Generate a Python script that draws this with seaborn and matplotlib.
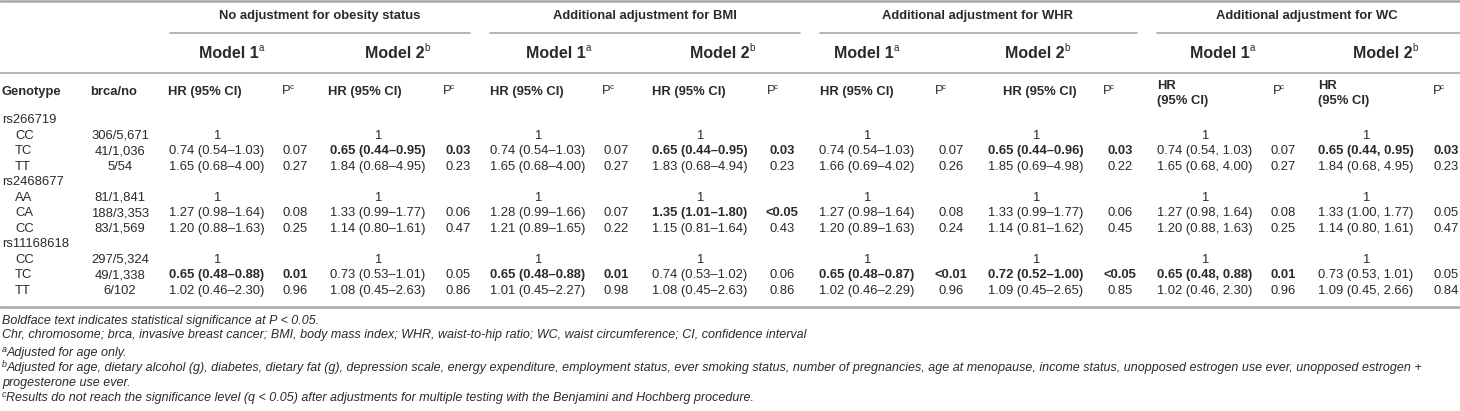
import matplotlib
matplotlib.use("Agg")
import matplotlib.pyplot as plt
import seaborn as sns

# ---- table data ----
snps = ["rs266719", "rs2468677", "rs11168618"]
genotypes = [["CC", "TC", "TT"], ["AA", "CA", "CC"], ["CC", "TC", "TT"]]
brca_no = [["306/5,671", "41/1,036", "5/54"],
           ["81/1,841", "188/3,353", "83/1,569"],
           ["297/5,324", "49/1,338", "6/102"]]

groups = ["No adjustment for obesity status", "Additional adjustment for BMI",
          "Additional adjustment for WHR", "Additional adjustment for WC"]
models = ["Model 1", "Model 2"]
model_sup = ["a", "b"]

noadj_m1_hr = ["1", "0.74 (0.54–1.03)", "1.65 (0.68–4.00)", "1", "1.27 (0.98–1.64)", "1.20 (0.88–1.63)",
               "1", "0.65 (0.48–0.88)", "1.02 (0.46–2.30)"]
noadj_m1_p = ["", "0.07", "0.27", "", "0.08", "0.25", "", "0.01", "0.96"]
noadj_m2_hr = ["1", "0.65 (0.44–0.95)", "1.84 (0.68–4.95)", "1", "1.33 (0.99–1.77)", "1.14 (0.80–1.61)",
               "1", "0.73 (0.53–1.01)", "1.08 (0.45–2.63)"]
noadj_m2_p = ["", "0.03", "0.23", "", "0.06", "0.47", "", "0.05", "0.86"]
bmi_m1_hr = ["1", "0.74 (0.54–1.03)", "1.65 (0.68–4.00)", "1", "1.28 (0.99–1.66)", "1.21 (0.89–1.65)",
             "1", "0.65 (0.48–0.88)", "1.01 (0.45–2.27)"]
bmi_m1_p = ["", "0.07", "0.27", "", "0.07", "0.22", "", "0.01", "0.98"]
bmi_m2_hr = ["1", "0.65 (0.44–0.95)", "1.83 (0.68–4.94)", "1", "1.35 (1.01–1.80)", "1.15 (0.81–1.64)",
             "1", "0.74 (0.53–1.02)", "1.08 (0.45–2.63)"]
bmi_m2_p = ["", "0.03", "0.23", "", "<0.05", "0.43", "", "0.06", "0.86"]
whr_m1_hr = ["1", "0.74 (0.54–1.03)", "1.66 (0.69–4.02)", "1", "1.27 (0.98–1.64)", "1.20 (0.89–1.63)",
             "1", "0.65 (0.48–0.87)", "1.02 (0.46–2.29)"]
whr_m1_p = ["", "0.07", "0.26", "", "0.08", "0.24", "", "<0.01", "0.96"]
whr_m2_hr = ["1", "0.65 (0.44–0.96)", "1.85 (0.69–4.98)", "1", "1.33 (0.99–1.77)", "1.14 (0.81–1.62)",
             "1", "0.72 (0.52–1.00)", "1.09 (0.45–2.65)"]
whr_m2_p = ["", "0.03", "0.22", "", "0.06", "0.45", "", "<0.05", "0.85"]
wc_m1_hr = ["1", "0.74 (0.54, 1.03)", "1.65 (0.68, 4.00)", "1", "1.27 (0.98, 1.64)", "1.20 (0.88, 1.63)",
            "1", "0.65 (0.48, 0.88)", "1.02 (0.46, 2.30)"]
wc_m1_p = ["", "0.07", "0.27", "", "0.08", "0.25", "", "0.01", "0.96"]
wc_m2_hr = ["1", "0.65 (0.44, 0.95)", "1.84 (0.68, 4.95)", "1", "1.33 (1.00, 1.77)", "1.14 (0.80, 1.61)",
            "1", "0.73 (0.53, 1.01)", "1.09 (0.45, 2.66)"]
wc_m2_p = ["", "0.03", "0.23", "", "0.05", "0.47", "", "0.05", "0.84"]

hr_cols = [noadj_m1_hr, noadj_m2_hr, bmi_m1_hr, bmi_m2_hr, whr_m1_hr, whr_m2_hr, wc_m1_hr, wc_m2_hr]
p_cols = [noadj_m1_p, noadj_m2_p, bmi_m1_p, bmi_m2_p, whr_m1_p, whr_m2_p, wc_m1_p, wc_m2_p]

# (column index, row index) of significant cells
bold_cells = [(1, 1), (0, 7), (3, 1), (3, 4), (2, 7), (5, 1), (4, 7), (5, 7), (7, 1), (6, 7)]

footnotes = [("", "Boldface text indicates statistical significance at P < 0.05."),
             ("", "Chr, chromosome; brca, invasive breast cancer; BMI, body mass index; WHR, waist-to-hip ratio; "
                  "WC, waist circumference; CI, confidence interval"),
             ("a", "Adjusted for age only."),
             ("b", "Adjusted for age, dietary alcohol (g), diabetes, dietary fat (g), depression scale, energy "
                   "expenditure, employment status, ever smoking status, number of pregnancies, age at menopause, "
                   "income status, unopposed estrogen use ever, unopposed estrogen +"),
             ("", "progesterone use ever."),
             ("c", "Results do not reach the significance level (q < 0.05) after adjustments for multiple testing "
                   "with the Benjamini and Hochberg procedure.")]

# ---- layout ----
sns.set_theme(style="white")
plt.rcParams["font.family"] = ["Liberation Sans", "DejaVu Sans"]

W, H = 1460, 411
INK = "#2a2a2a"
RULE = "#a8a8a8"
FS = 9.4

fig = plt.figure(figsize=(W / 100, H / 100), dpi=100)
ax = fig.add_axes([0, 0, 1, 1])
ax.set_xlim(0, W)
ax.set_ylim(H, 0)
ax.axis("off")
renderer = fig.canvas.get_renderer()


def put(x, y, s, size=FS, weight="normal", ha="left", style="normal", color=INK):
    t = ax.text(x, y, s, fontsize=size, fontweight=weight, ha=ha, va="center",
                fontstyle=style, color=color)
    bb = t.get_window_extent(renderer)
    return ax.transData.inverted().transform((bb.x1, bb.y1))[0]


def put_sup(x, y, s, sup, size=FS, weight="normal", ha="left", style="normal", color=INK, gap=0.5):
    if ha == "center":
        x = x - size * 0.22
    right = put(x, y, s, size, weight, ha, style, color)
    put(right + gap, y - size * 0.42, sup, size * 0.62, "normal", "left", style, color)


hr_x = [217, 378, 538, 700, 867, 1036, 1205, 1366]
p_x = [295, 458, 616, 782, 951, 1120, 1283, 1446]
hr_head_x = [168, 328, 490, 652, 820, 1003, 1157, 1318]
p_head_x = [282, 443, 602, 767, 935, 1103, 1273, 1433]
group_x = [320, 645, 978, 1307]
group_span = [(170, 470), (490, 800), (820, 1137), (1157, 1460)]
model_x = [231, 397, 558, 722, 866, 1037, 1222, 1385]

# rules
ax.axhline(1, color=RULE, lw=1.8)
ax.axhline(73, color=RULE, lw=1.2)
ax.axhline(307, color=RULE, lw=1.8)
for x0, x1 in group_span:
    ax.plot([x0, x1], [33, 33], color=RULE, lw=1.2)

# header rows
for gx, g in zip(group_x, groups):
    put(gx, 16, g, size=FS, weight="bold", ha="center")
for i, mx in enumerate(model_x):
    put_sup(mx, 53, models[i % 2], model_sup[i % 2], size=11.5, weight="bold", ha="center")

put(2, 92, "Genotype", weight="bold")
put(90, 92, "brca/no", weight="bold")
for i in range(8):
    if i >= 6:
        put(hr_head_x[i], 86, "HR", weight="bold")
        put(hr_head_x[i], 101, "(95% CI)", weight="bold")
    else:
        put(hr_head_x[i], 92, "HR (95% CI)", weight="bold")
    put_sup(p_head_x[i], 91, "P", "c", gap=-1.5)

# body
row_h = 15.5
y0 = 120
for s_i, snp in enumerate(snps):
    ys = y0 + s_i * 4 * row_h
    put(2, ys, snp)
    for g_i in range(3):
        y = ys + (g_i + 1) * row_h
        r = s_i * 3 + g_i
        put(15, y, genotypes[s_i][g_i])
        put(120, y, brca_no[s_i][g_i], ha="center")
        for c in range(8):
            w = "bold" if (c, r) in bold_cells else "normal"
            put(hr_x[c], y, hr_cols[c][r], weight=w, ha="center")
            put(p_x[c], y, p_cols[c][r], weight=w, ha="center")

# footnotes
foot_y = [321, 335, 353, 368, 383, 398]
for (sup, txt), fy in zip(footnotes, foot_y):
    x = 2
    if sup:
        x = put(x, fy - 3.5, sup, size=6.4, style="italic") - 0.5
    put(x, fy, txt, size=9.0, style="italic")

fig.savefig("out.png", dpi=100)
